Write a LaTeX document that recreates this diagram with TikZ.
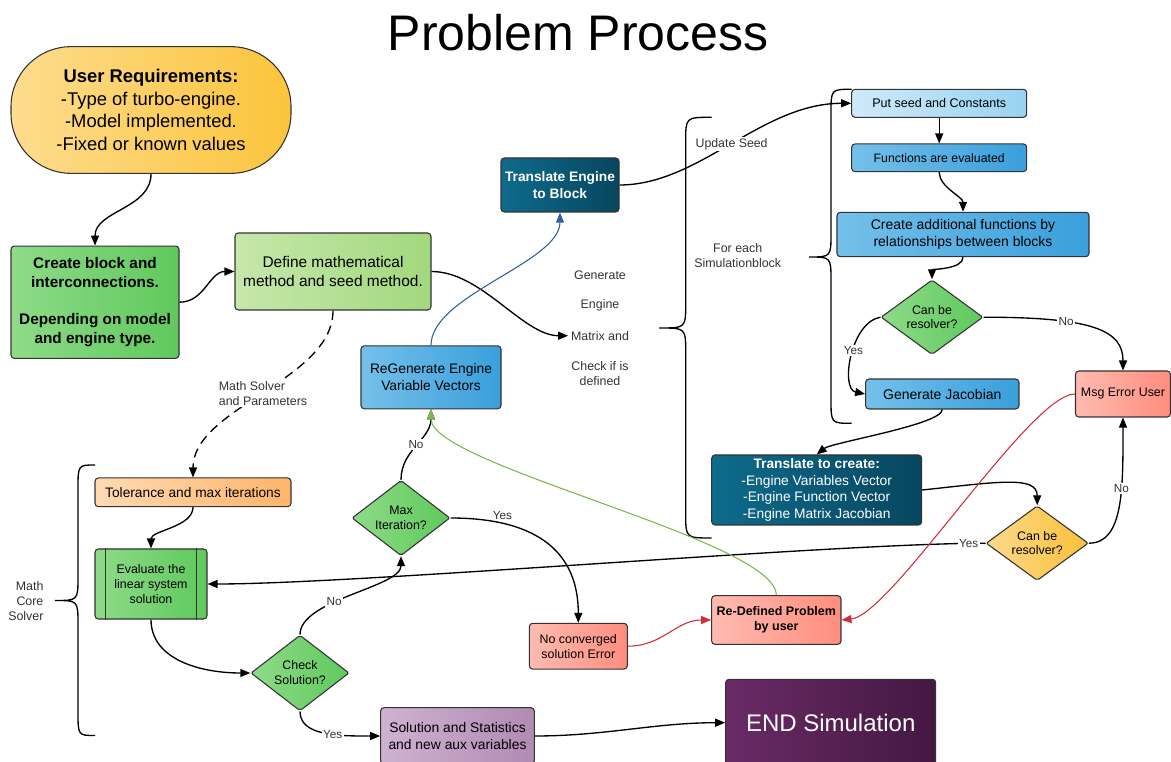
\documentclass[tikz,border=0pt]{standalone}
\usepackage{fontspec}
\setmainfont{Liberation Sans}
\usetikzlibrary{shapes.geometric,arrows.meta,calc}

\definecolor{ureqL}{HTML}{FDDC8E}\definecolor{ureqR}{HTML}{FBC43B}
\definecolor{grnL}{HTML}{8EDB88}\definecolor{grnR}{HTML}{5FC95C}
\definecolor{lgrnL}{HTML}{C6E7AB}\definecolor{lgrnR}{HTML}{A2D87E}
\definecolor{tealL}{HTML}{0E6B8C}\definecolor{tealR}{HTML}{07465F}
\definecolor{bluL}{HTML}{74C0EA}\definecolor{bluR}{HTML}{3A9FDB}
\definecolor{lbluL}{HTML}{CFEAF9}\definecolor{lbluR}{HTML}{98D2F1}
\definecolor{torL}{HTML}{FFDAB3}\definecolor{torR}{HTML}{FFB46A}
\definecolor{salL}{HTML}{FFBBB0}\definecolor{salR}{HTML}{FF8D7E}
\definecolor{odiaL}{HTML}{FDD98A}\definecolor{odiaR}{HTML}{F8C03A}
\definecolor{purL}{HTML}{CFB2D1}\definecolor{purR}{HTML}{B08AB3}
\definecolor{dpurL}{HTML}{6A2A66}\definecolor{dpurR}{HTML}{431841}
\definecolor{bordergray}{HTML}{333333}
\definecolor{labelgray}{HTML}{333333}
\definecolor{bluec}{HTML}{2F609F}
\definecolor{redc}{HTML}{D02E3A}
\definecolor{greenc}{HTML}{7DB84C}

\newcommand{\mysz}[2]{\fontsize{#1pt}{#2pt}\selectfont}
% curly brace: end x, spine x, tip x, top y, tip y, bottom y
\newcommand{\lcbrace}[6]{%
  \draw[bracestyle] (#1,#4) .. controls (#2,#4) .. (#2,{#4+24})
    -- (#2,{#5-24}) .. controls (#2,#5) .. (#3,#5)
    .. controls (#2,#5) .. (#2,{#5+24})
    -- (#2,{#6-24}) .. controls (#2,#6) .. (#1,#6);}

\begin{document}
\begin{tikzpicture}[x=0.75pt,y=-0.75pt,
  box/.style={draw=bordergray, line width=0.8pt, rounded corners=2.5pt,
    align=center, inner sep=1pt, text=black},
  dia/.style={shape=diamond, draw=bordergray, line width=0.8pt,
    rounded corners=1.5pt, align=center, inner sep=0pt, text=black},
  conn/.style={line width=1pt, draw=black, -{Triangle[length=7.5pt,width=6pt]}},
  thinconn/.style={line width=0.8pt, -{Triangle[length=7.5pt,width=6pt]}},
  lbl/.style={text=labelgray, align=center, inner sep=1pt},
  elbl/.style={fill=white, text=labelgray, inner sep=1pt, font=\mysz{8.8}{10}},
  bracestyle/.style={line width=1pt, draw=black},
  dashline/.style={line width=1pt, draw=black, dash pattern=on 7pt off 4.5pt,
    -{Triangle[length=7.5pt,width=6pt]}},
  sideline/.style={line width=0.8pt, draw=bordergray}
]
\useasboundingbox (0,0) rectangle (1171,762);
\clip (0,0) rectangle (1171,762);
\fill[white] (0,0) rectangle (1171,762);

% title
\node[font=\mysz{37.5}{40}, anchor=base, inner sep=0pt] (title) at (578,51) {Problem Process};

% nodes
\node[box, minimum width=210pt, minimum height=95pt, rounded corners=45pt,
  left color=ureqL, right color=ureqR, font=\mysz{13.8}{17}] (ureq) at (151,110)
  {\textbf{User Requirements:}\\-Type of turbo-engine.\\-Model implemented.\\-Fixed or known values};
\node[box, minimum width=126pt, minimum height=84.2pt, left color=grnL, right color=grnR,
  font=\mysz{11.5}{14.25}\bfseries] (create) at (95,302.2)
  {Create block and\\interconnections.\\[13.5pt]Depending on model\\and engine type.};
\node[box, minimum width=147pt, minimum height=57.75pt, left color=lgrnL, right color=lgrnR,
  font=\mysz{11.6}{14.25}] (define) at (333,271.5)
  {Define mathematical\\method and seed method.};
\node[box, minimum width=88.5pt, minimum height=40.5pt, left color=tealL, right color=tealR,
  text=white, font=\mysz{10.3}{12.5}\bfseries] (transEng) at (560,185)
  {Translate Engine\\to Block};
\node[box, minimum width=105pt, minimum height=47.25pt, left color=bluL, right color=bluR,
  font=\mysz{10.35}{12.5}] (regen) at (431,377.3)
  {ReGenerate Engine\\Variable Vectors};
\node[box, minimum width=131.25pt, minimum height=21pt, left color=lbluL, right color=lbluR,
  font=\mysz{9.4}{11}] (putseed) at (939.2,103.3) {Put seed and Constants};
\node[box, minimum width=131.25pt, minimum height=20.75pt, left color=bluL, right color=bluR,
  font=\mysz{9.2}{11}] (funcs) at (939.2,157.8) {Functions are evaluated};
\node[box, minimum width=189pt, minimum height=33.3pt, left color=bluL, right color=bluR,
  font=\mysz{10.5}{12.5}] (addfun) at (963,234.5)
  {Create additional functions by\\relationships between blocks};
\node[dia, minimum width=76.5pt, minimum height=45.75pt, left color=grnL, right color=grnR,
  font=\mysz{9.3}{11}] (can1) at (932,317.2) {Can be\\resolver?};
\node[box, minimum width=115pt, minimum height=22.5pt, left color=bluL, right color=bluR,
  font=\mysz{10.5}{12.5}] (jac) at (942.3,394) {Generate Jacobian};
\node[box, minimum width=71.25pt, minimum height=34.5pt, left color=salL, right color=salR,
  font=\mysz{9.3}{11}] (msg) at (1123,394) {Msg Error User};
\node[box, minimum width=157.5pt, minimum height=52.5pt, left color=tealL, right color=tealR,
  text=white, font=\mysz{10.33}{12.5}] (transCr) at (816.7,490)
  {\textbf{Translate to create:}\\-Engine Variables Vector\\-Engine Function Vector\\-Engine Matrix Jacobian};
\node[dia, minimum width=76.7pt, minimum height=46.3pt, left color=odiaL, right color=odiaR,
  font=\mysz{9.3}{11}] (can2) at (1037.2,543.2) {Can be\\resolver?};
\node[box, minimum width=147pt, minimum height=21.5pt, left color=torL, right color=torR,
  font=\mysz{10.3}{12}] (tol) at (193,492.3) {Tolerance and max iterations};
\node[box, minimum width=84pt, minimum height=52.5pt, left color=grnL, right color=grnR,
  font=\mysz{9.3}{11.25}] (eval) at (151,584)
  {Evaluate the\\linear system\\solution};
\node[dia, minimum width=73.5pt, minimum height=51pt, left color=grnL, right color=grnR,
  font=\mysz{9.3}{11.25}] (maxit) at (401,518) {Max\\Iteration?};
\node[dia, minimum width=73.7pt, minimum height=50.8pt, left color=grnL, right color=grnR,
  font=\mysz{9.3}{11.25}] (check) at (300,673) {Check\\Solution?};
\node[box, minimum width=73.5pt, minimum height=34.3pt, left color=salL, right color=salR,
  font=\mysz{9.3}{11.25}] (noconv) at (578.3,646.2) {No converged\\solution Error};
\node[box, minimum width=97pt, minimum height=36.5pt, left color=salL, right color=salR,
  font=\mysz{9.36}{11.25}\bfseries] (redef) at (776.3,620) {Re-Defined Problem\\by user};
\node[box, minimum width=115.2pt, minimum height=42.5pt, left color=purL, right color=purR,
  font=\mysz{10.4}{12.5}] (sol) at (457.5,736) {Solution and Statistics\\and new aux variables};
\node[box, minimum width=157.5pt, minimum height=65.1pt, left color=dpurL, right color=dpurR,
  text=white, font=\mysz{18}{20}] (endsim) at (830.7,722.7) {END Simulation};

% side bars of the subroutine box
\draw[sideline] ($(eval.north west)+(11,0)$) -- ($(eval.south west)+(11,0)$);
\draw[sideline] ($(eval.north east)+(-11,0)$) -- ($(eval.south east)+(-11,0)$);

% free texts
\node[lbl, font=\mysz{9.3}{11.25}] (gen) at (600,275) {Generate};
\node[lbl, font=\mysz{9.3}{11.25}] (eng) at (600,305.3) {Engine};
\node[lbl, font=\mysz{9.3}{11.25}, inner sep=2pt] (mat) at (600,335.7) {Matrix and};
\node[lbl, font=\mysz{9.3}{11.25}] (chk) at (600,374) {Check if is\\defined};
\node[lbl, font=\mysz{9.3}{11.25}] (foreach) at (737.7,256) {For each\\Simulationblock};
\node[lbl, font=\mysz{9.3}{11.25}, align=right, anchor=east] (mcs) at (45,601) {Math\\Core\\Solver};

% braces
\lcbrace{95}{78}{55}{465}{600.5}{735.5}
\lcbrace{711.7}{685.7}{659}{117.3}{328}{538}
\lcbrace{851.7}{831}{809}{89.3}{257}{423.3}

% connectors
\draw[conn] (ureq.south) .. controls +(0,35) and +(0,-35) .. (create.north);
\draw[conn] (create.east) .. controls +(25,0) and +(-25,0) .. (define.west);
\draw[conn] (define.east) .. controls +(50,0) and +(-45,0) .. (mat.west);
\draw[dashline] (define.south) .. controls +(0,70) and +(0,-70) .. (tol.north)
  node[pos=0.5, fill=white, lbl, align=left, font=\mysz{9.3}{11.25}] (mslbl) {Math Solver\\and Parameters};
\draw[thinconn, bluec] (regen.north) .. controls +(0,-50) and +(0,50) .. (transEng.south);
\draw[conn] (transEng.east) .. controls +(80,0) and +(-90,0) .. (putseed.west)
  node[pos=0.5, fill=white, lbl, font=\mysz{9.25}{11}] (updlbl) {Update Seed};
\draw[conn] (putseed) -- (funcs);
\draw[conn] (funcs.south) .. controls +(0,15) and +(0,-15) .. (addfun.north);
\draw[conn] (addfun.south) .. controls +(0,12) and +(0,-10) .. (can1.north);
\draw[conn] (can1.west) .. controls +(-30,5) and +(-25,-5) .. (jac.west) node[pos=0.45, elbl] {Yes};
\draw[conn] (can1.east) .. controls +(110,0) and +(0,-40) .. (msg.north) node[pos=0.32, elbl] {No};
\draw[conn] (jac.south) .. controls +(0,15) and +(15,-12) .. (transCr.north);
\draw[conn] (transCr.east) .. controls +(75,-8) and +(0,-30) .. (can2.north);
\draw[conn] (can2.east) .. controls +(35,0) and +(0,70) .. (msg.south) node[pos=0.62, elbl] {No};
\draw[conn] (can2.west) .. controls +(-150,0) and +(150,0) .. (eval.east) node[pos=0.035, elbl] {Yes};
\draw[conn] (tol.south) .. controls +(0,20) and +(0,-18) .. (eval.north);
\draw[conn] (eval.south) .. controls +(0,40) and +(-50,0) .. (check.west);
\draw[conn] (check.north) .. controls +(0,-35) and +(0,31) .. (maxit.south) node[pos=0.39, elbl] {No};
\draw[conn] (maxit.north) .. controls +(0,-30) and +(0,30) .. (regen.south) node[pos=0.5, elbl] {No};
\draw[conn] (maxit.east) .. controls +(90,0) and +(0,-68) .. (noconv.north)
  node[pos=0.22, above, text=labelgray, inner sep=2pt, font=\mysz{8.8}{10}] {Yes};
\draw[conn] (check.south) .. controls +(0,25) and +(-40,0) .. (sol.west) node[pos=0.58, elbl] {Yes};
\draw[conn] (sol.east) .. controls +(70,0) and +(-70,0) .. (endsim.west);
\draw[thinconn, redc] (msg.west) .. controls +(-45,0) and +(50,-5) .. (redef.east);
\draw[thinconn, redc] (noconv.east) .. controls +(35,0) and +(-35,0) .. (redef.west);
\draw[thinconn, greenc] (redef.north) .. controls +(0,-55) and +(0,56) .. (regen.south);
\end{tikzpicture}
\end{document}
